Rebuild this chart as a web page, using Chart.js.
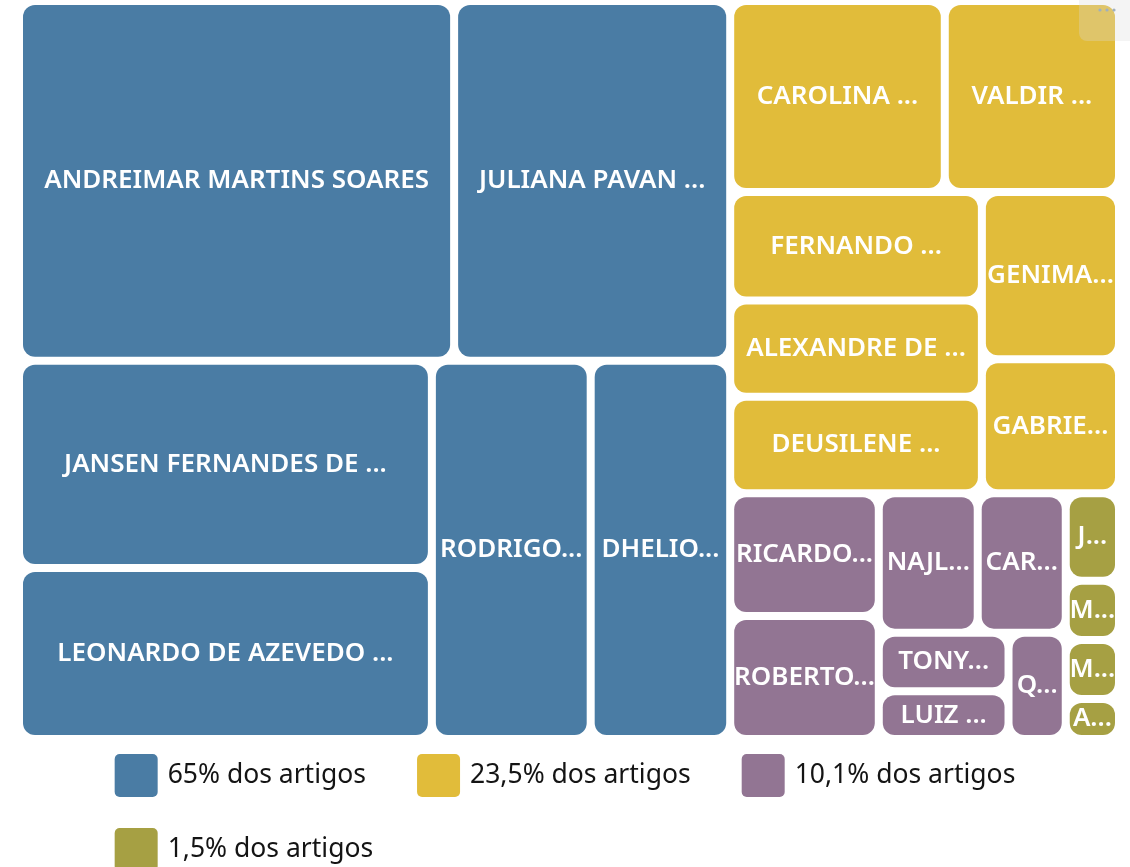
<!DOCTYPE html>
<html>
<head>
<meta charset="utf-8">
<script src="https://cdn.jsdelivr.net/npm/chart.js@4"></script>
<style>
  html, body { margin: 0; padding: 0; background: #fff; overflow: hidden; }
  canvas { display: block; }
</style>
</head>
<body>
<canvas id="Grafico" width="1130" height="867"></canvas>
<script>
'use strict';
// grupos (legenda)
const groupLabels = ['65% dos artigos', '23,5% dos artigos', '10,1% dos artigos', '1,5% dos artigos'];
const groupColors = ['#4a7ca4', '#e1bc3a', '#927593', '#a6a043'];

// autores e valores de cada grupo
const blueNames = ['ANDREIMAR MARTINS SOARES', 'JULIANA PAVAN ...', 'JANSEN FERNANDES DE ...', 'LEONARDO DE AZEVEDO ...', 'RODRIGO...', 'DHELIO...'];
const blueValues = [154.3, 97.9, 84.3, 69.6, 59.2, 52.0];

const yellowNames = ['CAROLINA ...', 'VALDIR ...', 'FERNANDO ...', 'ALEXANDRE DE ...', 'DEUSILENE ...', 'GENIMA...', 'GABRIE...'];
const yellowValues = [40.4, 32.8, 26.9, 23.9, 23.9, 22.6, 18.1];

const purpleNames = ['RICARDO...', 'ROBERTO...', 'NAJL...', 'CAR...', 'TONY...', 'LUIZ ...', 'Q...'];
const purpleValues = [18.0, 18.0, 13.6, 12.1, 7.5, 6.1, 6.0];

const oliveNames = ['J...', 'M...', 'M...', 'A...'];
const oliveValues = [4.6, 3.1, 3.1, 2.1];

// quantos itens em cada faixa do layout
const groupStrips = [[2, 2, 2], [2, 3, 1, 1], [2, 2, 2, 1], [1, 1, 1, 1]];
const topStrips = [1, 1, 1, 1];

const groups = [
  { names: blueNames, values: blueValues },
  { names: yellowNames, values: yellowValues },
  { names: purpleNames, values: purpleValues },
  { names: oliveNames, values: oliveValues },
];

const soma = (arr) => arr.reduce((a, b) => a + b, 0);

// faixas: cada faixa vai pelo lado mais curto do retangulo restante
function layoutStrips(values, strips, rect, pxW, pxH) {
  let {x, y, w, h} = rect;
  let total = soma(values);
  let i = 0;
  const out = [];
  strips.forEach((n) => {
    const row = values.slice(i, i + n);
    const idx0 = i;
    i += n;
    const s = soma(row);
    const last = i >= values.length;
    if (w * pxW <= h * pxH) {
      const t = last ? h : h * s / total;
      let cx = x;
      row.forEach((v, k) => {
        const cw = w * v / s;
        out.push({x: cx, y: y, w: cw, h: t, index: idx0 + k});
        cx += cw;
      });
      y += t; h -= t;
    } else {
      const t = last ? w : w * s / total;
      let cy = y;
      row.forEach((v, k) => {
        const ch = h * v / s;
        out.push({x: x, y: cy, w: t, h: ch, index: idx0 + k});
        cy += ch;
      });
      x += t; w -= t;
    }
    total -= s;
  });
  return out;
}

function roundRect(ctx, x, y, w, h, r) {
  r = Math.max(0, Math.min(r, w / 2, h / 2));
  ctx.beginPath();
  ctx.moveTo(x + r, y);
  ctx.lineTo(x + w - r, y);
  ctx.arcTo(x + w, y, x + w, y + r, r);
  ctx.lineTo(x + w, y + h - r);
  ctx.arcTo(x + w, y + h, x + w - r, y + h, r);
  ctx.lineTo(x + r, y + h);
  ctx.arcTo(x, y + h, x, y + h - r, r);
  ctx.lineTo(x, y + r);
  ctx.arcTo(x, y, x + r, y, r);
  ctx.closePath();
}

function fitLabel(ctx, text, maxW) {
  if (ctx.measureText(text).width <= maxW) return text;
  let base = text.replace(/\.+$/, '');
  while (base.length > 1 && ctx.measureText(base + '...').width > maxW) base = base.slice(0, -1);
  return base + '...';
}

const treemapPlugin = {
  id: 'treemap',
  afterDatasetsDraw(chart) {
    const {ctx, scales: {x, y}} = chart;
    const pxW = x.getPixelForValue(1) - x.getPixelForValue(0);
    const pxH = y.getPixelForValue(1) - y.getPixelForValue(0);
    const gap = 8;
    const tops = layoutStrips(groups.map(g => soma(g.values)), topStrips, {x: 0, y: 0, w: 1, h: 1}, pxW, pxH);
    ctx.save();
    tops.forEach((gr) => {
      const g = groups[gr.index];
      const cells = layoutStrips(g.values, groupStrips[gr.index], gr, pxW, pxH);
      cells.forEach((c) => {
        const left = x.getPixelForValue(c.x) + gap / 2;
        const right = x.getPixelForValue(c.x + c.w) - gap / 2;
        const top = y.getPixelForValue(c.y) + gap / 2;
        const bottom = y.getPixelForValue(c.y + c.h) - gap / 2;
        ctx.fillStyle = groupColors[gr.index];
        roundRect(ctx, left, top, right - left, bottom - top, 12);
        ctx.fill();
        ctx.fillStyle = '#ffffff';
        ctx.font = '600 26px "Noto Sans", "Open Sans", sans-serif';
        ctx.textAlign = 'center';
        ctx.textBaseline = 'middle';
        const txt = fitLabel(ctx, g.names[c.index], right - left + 4);
        ctx.fillText(txt, (left + right) / 2, (top + bottom) / 2);
      });
    });
    ctx.restore();
  },
  afterDraw(chart) {
    const ctx = chart.ctx;
    ctx.save();
    // legenda
    ctx.font = '26.5px "Noto Sans", "Open Sans", sans-serif';
    ctx.textAlign = 'left';
    ctx.textBaseline = 'middle';
    const box = 43, textGap = 10, itemGap = 51, rowH = 74, firstTop = 754;
    const items = chart.data.datasets.map(ds => ({label: ds.label, color: ds.backgroundColor, w: box + textGap + ctx.measureText(ds.label).width}));
    const maxW = chart.width - 60;
    const rows = [[]];
    let rowW = 0;
    items.forEach((it) => {
      const add = (rows[rows.length - 1].length ? itemGap : 0) + it.w;
      if (rows[rows.length - 1].length && rowW + add > maxW) { rows.push([it]); rowW = it.w; }
      else { rows[rows.length - 1].push(it); rowW += add; }
    });
    const firstW = soma(rows[0].map(it => it.w)) + itemGap * (rows[0].length - 1);
    const startX = (chart.width - firstW) / 2;
    rows.forEach((row, r) => {
      let cx = startX;
      const top = firstTop + r * rowH;
      row.forEach((it) => {
        ctx.fillStyle = it.color;
        roundRect(ctx, cx, top, box, box, 5);
        ctx.fill();
        ctx.fillStyle = '#141414';
        ctx.fillText(it.label, cx + box + textGap, top + box / 2);
        cx += it.w + itemGap;
      });
    });
    // botao de opcoes no canto
    ctx.fillStyle = 'rgba(220,220,220,0.3)';
    roundRect(ctx, 1079, -10, 70, 51, 8);
    ctx.fill();
    ctx.fillStyle = '#9fb0bf';
    [1100, 1107, 1114].forEach((dx) => { ctx.beginPath(); ctx.arc(dx, 10, 1.6, 0, Math.PI * 2); ctx.fill(); });
    ctx.restore();
  }
};

new Chart(document.getElementById('Grafico'), {
  type: 'scatter',
  data: {
    datasets: groupLabels.map((label, i) => ({
      label: label,
      data: [],
      backgroundColor: groupColors[i],
    }))
  },
  options: {
    responsive: false,
    devicePixelRatio: 1,
    animation: false,
    layout: { padding: { left: 19, right: 11, top: 1, bottom: 128 } },
    scales: {
      x: { display: false, min: 0, max: 1 },
      y: { display: false, min: 0, max: 1, reverse: true }
    },
    plugins: {
      legend: { display: false },
      tooltip: { enabled: false }
    }
  },
  plugins: [treemapPlugin]
});
</script>
</body>
</html>
